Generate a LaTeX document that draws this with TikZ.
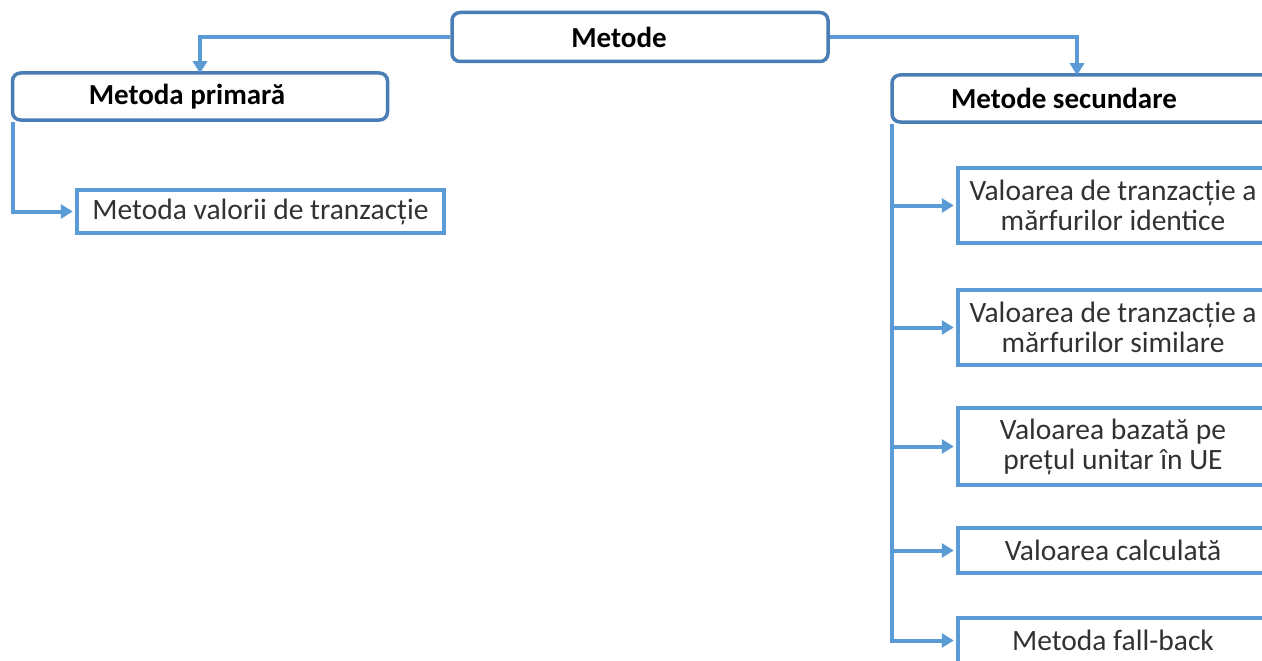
\documentclass[tikz,border=0pt]{standalone}
\usepackage{fontspec}
\setmainfont{Carlito}
\usetikzlibrary{arrows.meta}
\definecolor{boxblue}{RGB}{74,124,182}
\definecolor{linkblue}{RGB}{91,155,213}
\definecolor{txtgrey}{RGB}{50,50,50}
\begin{document}
\begin{tikzpicture}[x=1pt,y=-1pt,
    head/.style={draw=boxblue,line width=3.5pt,rounded corners=8pt,fill=white,font=\fontsize{29}{30}\selectfont\bfseries,inner sep=0pt},
    leaf/.style={draw=linkblue,line width=4.5pt,fill=white,text=txtgrey,font=\fontsize{29.5}{30}\selectfont,align=center,inner sep=0pt},
    link/.style={draw=linkblue,line width=4pt,-{Triangle[length=12pt,width=14pt]}}]
  \useasboundingbox (0,0) rectangle (1262,661);
  \fill[white] (0,0) rectangle (1262,661);
  \node[head,minimum width=376pt,minimum height=49pt] (metode) at (640,37) {Metode\hspace{42pt}\null};
  \node[head,minimum width=375pt,minimum height=47pt] (primara) at (200,96.5) {Metoda primară\hspace{26pt}\null};
  \node[head,minimum width=380pt,minimum height=47pt] (secundare) at (1082,98.5) {Metode secundare\hspace{36pt}\null};
  \node[leaf,minimum width=367pt,minimum height=43pt] (valorii) at (260.5,211.5) {Metoda valorii de tranzacție};
  \node[leaf,minimum width=310pt,minimum height=75pt] (identice) at (1113,205.5) {Valoarea de tranzacție a\\mărfurilor identice};
  \node[leaf,minimum width=310pt,minimum height=75pt] (similare) at (1113,327.5) {Valoarea de tranzacție a\\mărfurilor similare};
  \node[leaf,minimum width=310pt,minimum height=77pt] (unitar) at (1113,446.5) {Valoarea bazată pe\\prețul unitar în UE};
  \node[leaf,minimum width=310pt,minimum height=45pt] (calculata) at (1113,550.5) {Valoarea calculată};
  \node[leaf,minimum width=310pt,minimum height=45pt] (fallback) at (1113,640.5) {Metoda fall-back};
  \draw[link] (metode.west) -| ([yshift=-2pt]primara.north);
  \draw[link] (metode.east) -| ([xshift=-5pt,yshift=-2pt]secundare.north);
  \draw[link] ([xshift=2pt]primara.south west) |- ([xshift=-2pt]valorii.west);
  \foreach \n in {identice,similare,unitar,calculata,fallback}
    \draw[link] ([xshift=2pt]secundare.south west) |- ([xshift=-2pt]\n.west);
\end{tikzpicture}
\end{document}
